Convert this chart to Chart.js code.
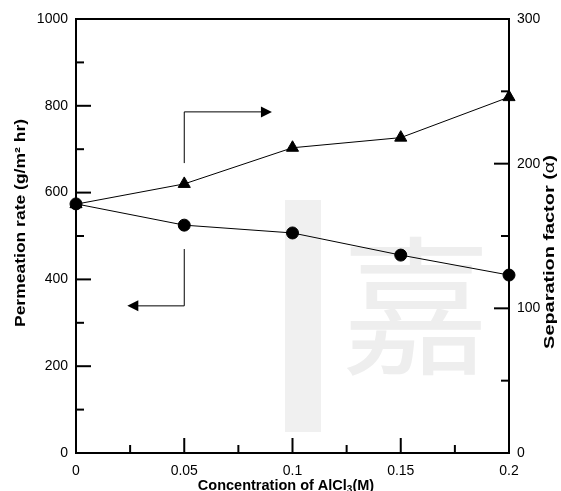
<!DOCTYPE html>
<html>
<head>
<meta charset="utf-8">
<script src="https://cdn.jsdelivr.net/npm/chart.js@4/dist/chart.umd.min.js"></script>
<style>
  html, body { margin: 0; padding: 0; background: #fff; }
  #wrap { width: 561px; height: 491px; position: relative; }
</style>
</head>
<body>
<div id="wrap"><canvas id="chart" width="561" height="491"></canvas></div>
<script>
// AlCl3 concentration (M)
const concentration = [0, 0.05, 0.1, 0.15, 0.2];
// permeation rate, g/m2 hr (left axis, circles)
const permeationRate = [574, 525, 507, 456, 410];
// separation factor alpha (right axis, triangles)
const separationFactor = [172, 186, 211, 218, 246];

const xTicks = [0, 0.05, 0.1, 0.15, 0.2];
const xTickLabels = ['0', '0.05', '0.1', '0.15', '0.2'];
const leftTicks = [0, 200, 400, 600, 800, 1000];
const rightTicks = [0, 100, 200, 300];

// arrow annotations [x, yLeft] points, last point is the arrow tip
const arrowRight = [[0.05, 668], [0.05, 786], [0.0905, 786]];
const arrowLeft = [[0.05, 470], [0.05, 339], [0.0237, 339]];

const FONT = '"Liberation Sans", Arial, sans-serif';

// draws text centred at (cx, cy), optionally rotated and stretched along its run
function drawParts(ctx, parts, cx, cy, rot, stretch) {
  ctx.save();
  ctx.translate(cx, cy);
  ctx.rotate(rot);
  ctx.scale(stretch, 1);
  let total = 0;
  const widths = parts.map(p => { ctx.font = p.font; const w = ctx.measureText(p.text).width; total += w; return w; });
  let x = -total / 2;
  ctx.textAlign = 'left';
  ctx.textBaseline = 'middle';
  ctx.fillStyle = '#000';
  parts.forEach((p, i) => {
    ctx.font = p.font;
    ctx.fillText(p.text, x, p.dy || 0);
    x += widths[i];
  });
  ctx.restore();
}

const watermarkPlugin = {
  id: 'watermark',
  beforeDatasetsDraw(chart) {
    const { ctx } = chart;
    ctx.save();
    ctx.fillStyle = '#f0f0f0';
    ctx.fillRect(285, 200, 36, 232);
    ctx.font = '150px "Noto Sans CJK TC", "Noto Sans CJK SC", sans-serif';
    ctx.textAlign = 'center';
    ctx.textBaseline = 'middle';
    ctx.fillStyle = '#eeeeee';
    ctx.fillText('嘉', 416, 306);
    ctx.restore();
  }
};

const framePlugin = {
  id: 'frame',
  afterDatasetsDraw(chart) {
    const { ctx, chartArea: a, scales } = chart;
    const x = scales.x, y = scales.y, y1 = scales.y1;
    ctx.save();
    ctx.strokeStyle = '#000';
    ctx.lineCap = 'butt';

    // ticks pointing into the plot
    ctx.lineWidth = 2;
    const tick = (x0, y0, x1, y1_) => { ctx.beginPath(); ctx.moveTo(x0, y0); ctx.lineTo(x1, y1_); ctx.stroke(); };
    for (let v = 0; v <= 1000; v += 100) {
      const py = y.getPixelForValue(v);
      tick(a.left, py, a.left + (v % 200 === 0 ? 15 : 8), py);
    }
    for (let v = 0; v <= 300; v += 50) {
      const py = y1.getPixelForValue(v);
      tick(a.right, py, a.right - (v % 100 === 0 ? 15 : 8), py);
    }
    for (let i = 0; i <= 8; i++) {
      const px = x.getPixelForValue(i * 0.025);
      tick(px, a.bottom, px, a.bottom - (i % 2 === 0 ? 15 : 8));
    }

    // frame
    ctx.strokeRect(a.left, a.top, a.right - a.left, a.bottom - a.top);

    // arrows
    ctx.lineWidth = 1;
    const drawArrow = (pts) => {
      const p = pts.map(([vx, vy]) => [x.getPixelForValue(vx), y.getPixelForValue(vy)]);
      const n = p.length;
      const [tx, ty] = p[n - 1];
      const dir = Math.sign(tx - p[n - 2][0]);
      ctx.beginPath();
      ctx.moveTo(p[0][0], p[0][1]);
      for (let i = 1; i < n - 1; i++) ctx.lineTo(p[i][0], p[i][1]);
      ctx.lineTo(tx - dir * 10, ty);
      ctx.stroke();
      ctx.beginPath();
      ctx.moveTo(tx, ty);
      ctx.lineTo(tx - dir * 11, ty - 5.5);
      ctx.lineTo(tx - dir * 11, ty + 5.5);
      ctx.closePath();
      ctx.fillStyle = '#000';
      ctx.fill();
    };
    drawArrow(arrowRight);
    drawArrow(arrowLeft);

    // axis titles
    const B = 'bold 14.5px ' + FONT;
    drawParts(ctx, [
      { text: 'Concentration of AlCl', font: B },
      { text: '3', font: 'bold 10px ' + FONT, dy: 4 },
      { text: '(M)', font: B }
    ], 286, 486, 0, 1);

    drawParts(ctx, [
      { text: 'Permeation rate (g/m\u00B2 hr)', font: 'bold 14px ' + FONT }
    ], 21, 223, -Math.PI / 2, 1.25);

    drawParts(ctx, [
      { text: 'Separation factor (', font: 'bold 14px ' + FONT },
      { text: '\u03B1', font: '14px ' + FONT },
      { text: ')', font: 'bold 14px ' + FONT }
    ], 550, 252, -Math.PI / 2, 1.42);

    ctx.restore();
  }
};

new Chart(document.getElementById('chart'), {
  type: 'scatter',
  data: {
    datasets: [
      {
        label: 'Separation factor',
        data: concentration.map((c, i) => ({ x: c, y: separationFactor[i] })),
        yAxisID: 'y1',
        showLine: true,
        borderColor: '#000',
        borderWidth: 1,
        backgroundColor: '#000',
        pointStyle: 'triangle',
        pointRadius: 7,
        order: 2
      },
      {
        label: 'Permeation rate',
        data: concentration.map((c, i) => ({ x: c, y: permeationRate[i] })),
        yAxisID: 'y',
        showLine: true,
        borderColor: '#000',
        borderWidth: 1,
        backgroundColor: '#000',
        pointStyle: 'circle',
        pointRadius: 6,
        order: 1
      }
    ]
  },
  options: {
    responsive: false,
    animation: false,
    clip: false,
    layout: { padding: { top: 19, right: 0, bottom: 0, left: 0 } },
    plugins: { legend: { display: false }, tooltip: { enabled: false } },
    scales: {
      x: {
        type: 'linear',
        min: 0, max: 0.2,
        afterBuildTicks: (s) => { s.ticks = xTicks.map(v => ({ value: v })); },
        afterFit: (s) => { s.height = 38; },
        grid: { display: false, drawTicks: false },
        border: { display: false },
        ticks: {
          color: '#000',
          font: { family: FONT, size: 14 },
          padding: 10,
          maxRotation: 0,
          callback: (v) => { const i = xTicks.indexOf(v); return i >= 0 ? xTickLabels[i] : ''; }
        }
      },
      y: {
        position: 'left',
        min: 0, max: 1000,
        afterBuildTicks: (s) => { s.ticks = leftTicks.map(v => ({ value: v })); },
        afterFit: (s) => { s.width = 76; },
        grid: { display: false, drawTicks: false },
        border: { display: false },
        ticks: { color: '#000', font: { family: FONT, size: 14 }, padding: 8, callback: (v) => String(v) }
      },
      y1: {
        position: 'right',
        min: 0, max: 300,
        afterBuildTicks: (s) => { s.ticks = rightTicks.map(v => ({ value: v })); },
        afterFit: (s) => { s.width = 52; },
        grid: { display: false, drawTicks: false },
        border: { display: false },
        ticks: { color: '#000', font: { family: FONT, size: 14 }, padding: 8, callback: (v) => String(v) }
      }
    }
  },
  plugins: [watermarkPlugin, framePlugin]
});
</script>
</body>
</html>
